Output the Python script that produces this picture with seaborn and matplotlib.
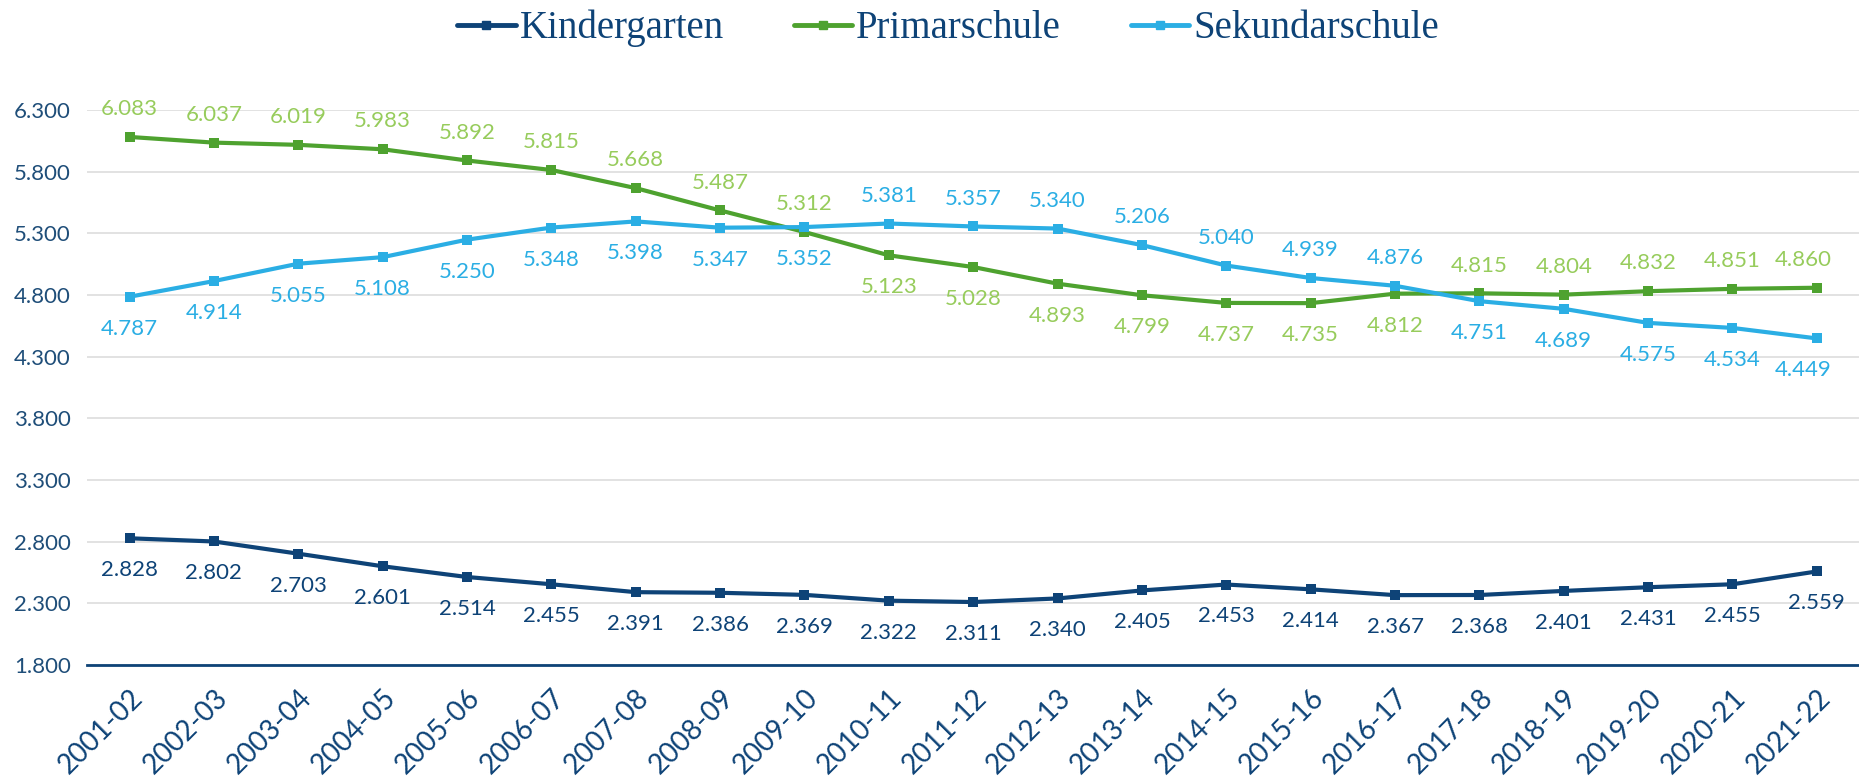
import matplotlib
matplotlib.use("Agg")
import matplotlib.pyplot as plt
import seaborn as sns
import pandas as pd

# Schuljahre und Werte
jahre = ["2001-02", "2002-03", "2003-04", "2004-05", "2005-06", "2006-07", "2007-08",
         "2008-09", "2009-10", "2010-11", "2011-12", "2012-13", "2013-14", "2014-15",
         "2015-16", "2016-17", "2017-18", "2018-19", "2019-20", "2020-21", "2021-22"]
kindergarten = [2828, 2802, 2703, 2601, 2514, 2455, 2391, 2386, 2369, 2322, 2311,
                2340, 2405, 2453, 2414, 2367, 2368, 2401, 2431, 2455, 2559]
primarschule = [6083, 6037, 6019, 5983, 5892, 5815, 5668, 5487, 5312, 5123, 5028,
                4893, 4799, 4737, 4735, 4812, 4815, 4804, 4832, 4851, 4860]
sekundarschule = [4787, 4914, 5055, 5108, 5250, 5348, 5398, 5347, 5352, 5381, 5357,
                  5340, 5206, 5040, 4939, 4876, 4751, 4689, 4575, 4534, 4449]
y_ticks = [1800, 2300, 2800, 3300, 3800, 4300, 4800, 5300, 5800, 6300]

# Label-Position: +1 oberhalb, -1 unterhalb
pos_kinder = [-1] * 21
pos_primar = [1] * 9 + [-1] * 7 + [1] * 5
pos_sek = [-1] * 9 + [1] * 7 + [-1] * 5

DARK = "#0E4377"
GREEN = "#4EA22F"
GREEN_LBL = "#97CC5C"
BLUE = "#2BAEE4"

series = {"Kindergarten": kindergarten, "Primarschule": primarschule,
          "Sekundarschule": sekundarschule}
df = pd.DataFrame([
    {"jahr": j, "x": i, "schule": name, "wert": v}
    for name, vals in series.items() for i, (j, v) in enumerate(zip(jahre, vals))
])

sns.set_style("white")
plt.rcParams["font.family"] = ["Lato", "DejaVu Sans"]

fig = plt.figure(figsize=(18.59, 7.76), dpi=100)
ax = fig.add_axes([0.047, 0.143, 0.953, 0.715])

palette = {"Kindergarten": DARK, "Primarschule": GREEN, "Sekundarschule": BLUE}
sns.lineplot(data=df, x="x", y="wert", hue="schule", palette=palette,
             style="schule", markers={k: "s" for k in series}, dashes=False,
             markersize=7, markeredgewidth=0, linewidth=3, ax=ax, legend=False)

ax.set_xlim(-0.5, 20.5)
ax.set_ylim(1800, 6300)
ax.set_yticks(y_ticks)
ax.set_yticklabels([f"{t:,}".replace(",", ".") for t in y_ticks],
                   fontsize=16, color="#1F4E79")
ax.set_xticks(range(len(jahre)))
ax.set_xticklabels(jahre, rotation=45, ha="right", rotation_mode="anchor",
                   fontsize=20, color=DARK)
ax.tick_params(axis="both", length=0)
ax.tick_params(axis="y", pad=12)
ax.tick_params(axis="x", pad=14)
ax.set_xlabel("")
ax.set_ylabel("")
ax.grid(axis="y", color="#DDDDDD", linewidth=1.2)
ax.set_axisbelow(True)
for s in ["top", "right", "left"]:
    ax.spines[s].set_visible(False)
ax.spines["bottom"].set_color(DARK)
ax.spines["bottom"].set_linewidth(2)

label_colors = {"Kindergarten": DARK, "Primarschule": GREEN_LBL,
                "Sekundarschule": BLUE}
positions = {"Kindergarten": pos_kinder, "Primarschule": pos_primar,
             "Sekundarschule": pos_sek}
for name, vals in series.items():
    for i, v in enumerate(vals):
        up = positions[name][i]
        dx = -10 if (i == len(vals) - 1 and name != "Kindergarten") else 0
        ax.annotate(f"{v:,}".replace(",", "."), (i, v),
                    xytext=(dx, 20 if up > 0 else -23), textcoords="offset points",
                    ha="center", va="center", fontsize=16,
                    color=label_colors[name], annotation_clip=False)

handles = [plt.Line2D([], [], color=palette[n], marker="s", markersize=6,
                      linewidth=3.5) for n in series]
leg = fig.legend(handles, list(series), loc="center",
                 bbox_to_anchor=(0.51, 0.963), ncol=3, frameon=False,
                 handlelength=1.5, handletextpad=0.1, columnspacing=1.8,
                 prop={"family": "Liberation Serif", "size": 28})
for t in leg.get_texts():
    t.set_color(DARK)

fig.savefig("out.png", dpi=100)
